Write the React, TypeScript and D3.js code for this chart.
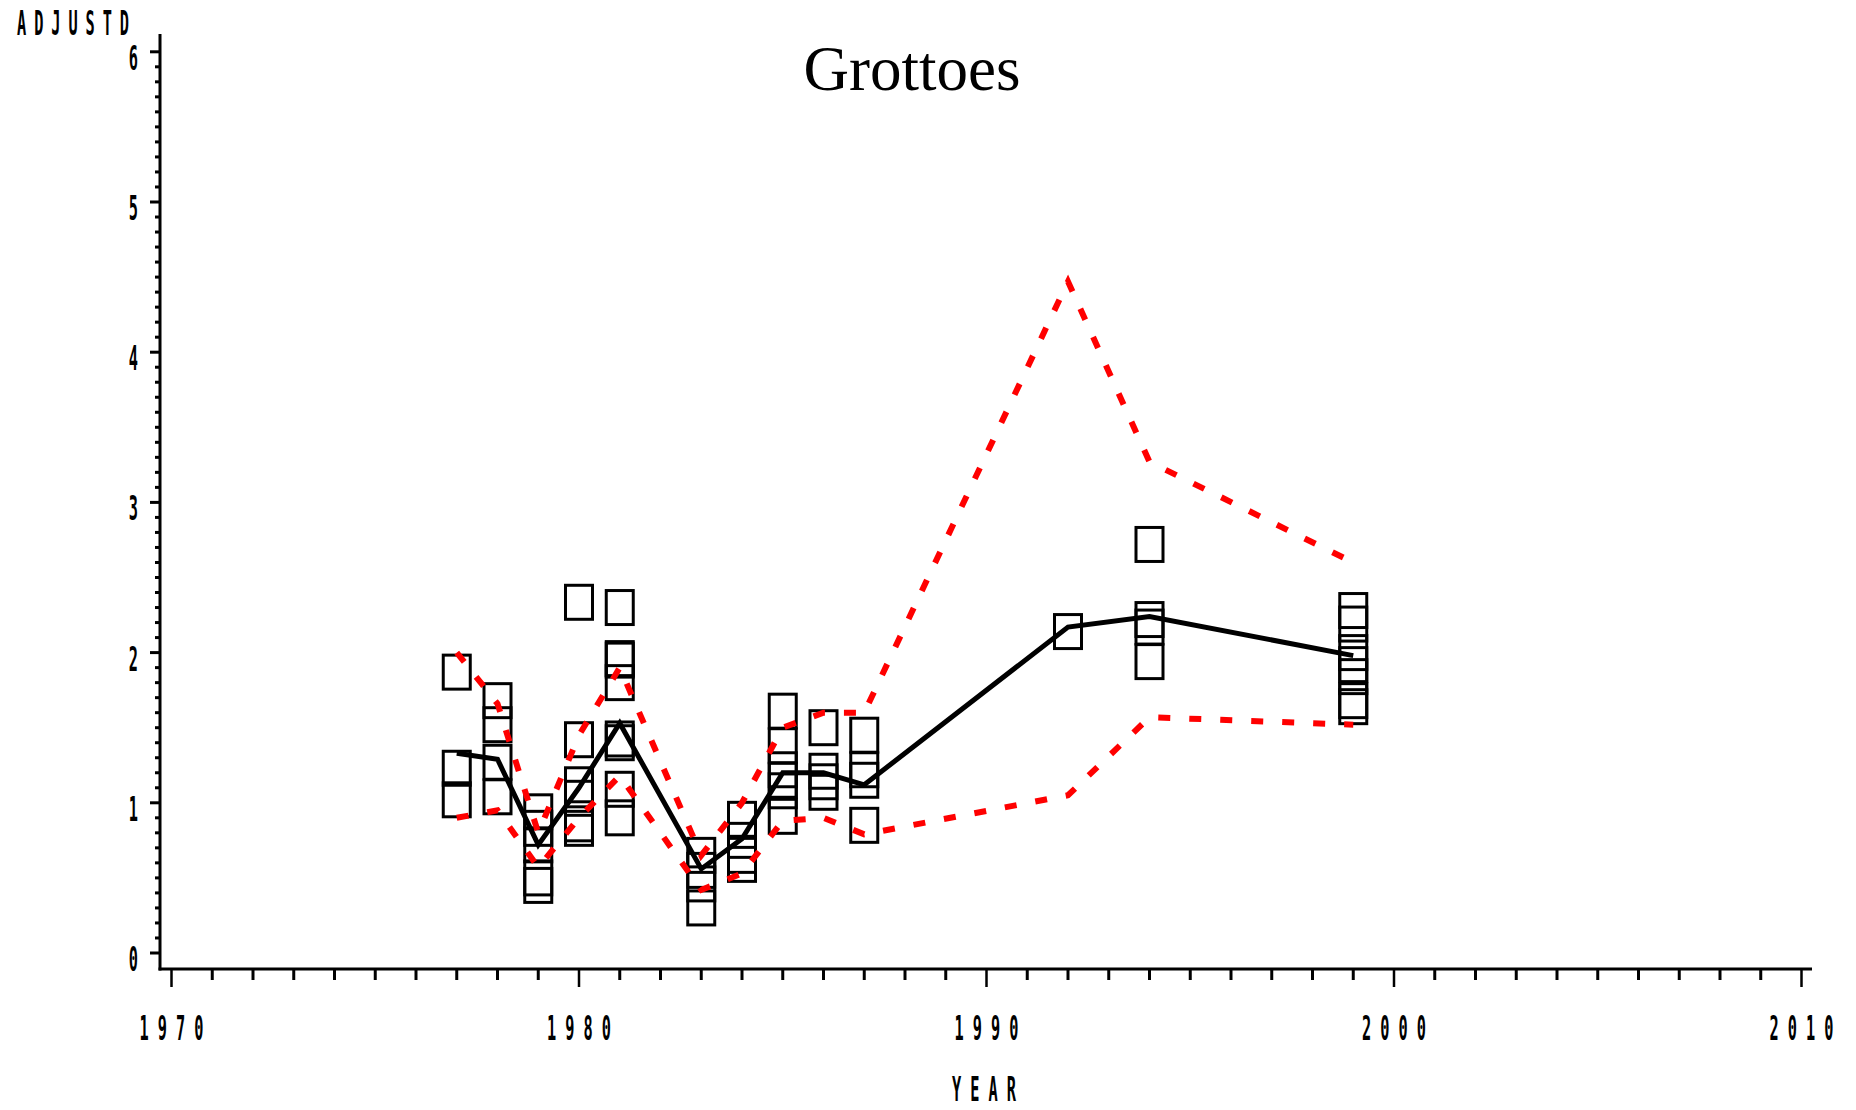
import React from "react";
import * as d3 from "d3";

// ---- data ----
const years = [1977, 1978, 1979, 1980, 1981, 1983, 1984, 1985, 1986, 1987, 1992, 1994, 1999];
const meanLine = [1.33, 1.29, 0.72, 1.1, 1.53, 0.56, 0.76, 1.2, 1.2, 1.12, 2.17, 2.24, 1.98];
const upperLine = [2.0, 1.66, 0.8, 1.45, 1.9, 0.65, 1.0, 1.5, 1.6, 1.6, 4.47, 3.27, 2.6];
const lowerLine = [0.9, 0.95, 0.57, 0.9, 1.18, 0.42, 0.53, 0.88, 0.9, 0.79, 1.05, 1.57, 1.52];
const pointValues: number[][] = [
  [1.87, 1.23, 1.02],
  [1.68, 1.52, 1.27, 1.04],
  [0.94, 0.83, 0.72, 0.5, 0.45],
  [2.335, 1.42, 1.12, 1.03, 0.86, 0.83],
  [2.3, 1.96, 1.95, 1.8, 1.425, 1.4, 1.09, 0.9],
  [0.65, 0.55, 0.46, 0.3],
  [0.89, 0.75, 0.65, 0.59],
  [1.61, 1.38, 1.22, 1.15, 1.08, 0.91],
  [1.5, 1.21, 1.14, 1.07],
  [1.45, 1.22, 1.15, 0.85],
  [2.14],
  [2.72, 2.22, 2.17, 1.94],
  [2.28, 2.19, 2.0, 1.92, 1.84, 1.68, 1.64],
];
const xMajorTicks = [1970, 1980, 1990, 2000, 2010];
const yMajorTicks = [0, 1, 2, 3, 4, 5, 6];
const titleText = "Grottoes";
const xLabel = "YEAR";
const yLabel = "ADJUSTD";

const W = 1856;
const H = 1110;

const x = d3.scaleLinear().domain([1970, 2010]).range([171.5, 1801.5]);
const y = d3.scaleLinear().domain([0, 6]).range([953, 51.8]);

const PIX_FONT = "'DejaVu Sans Mono', monospace";
const SX = 0.45;

function PixText({ px, py, text, anchor, width }: { px: number; py: number; text: string; anchor: string; width?: number }) {
  return (
    <g transform={`translate(${px},${py}) scale(${SX},1)`}>
      <text
        x={0}
        y={0}
        textAnchor={anchor}
        fontFamily={PIX_FONT}
        fontWeight="bold"
        fontSize={34}
        fill="#000"
        {...(width ? { textLength: width / SX, lengthAdjust: "spacing" } : {})}
      >
        {text}
      </text>
    </g>
  );
}

export default function App() {
  const lineGen = d3
    .line<[number, number]>()
    .x((d) => x(d[0]))
    .y((d) => y(d[1]));
  const meanPts: [number, number][] = years.map((yr, i) => [yr, meanLine[i]]);
  const upPts: [number, number][] = years.map((yr, i) => [yr, upperLine[i]]);
  const loPts: [number, number][] = years.map((yr, i) => [yr, lowerLine[i]]);

  const yMinor = d3.range(0, 61).map((k) => k / 10);
  const xMinor = d3.range(1970, 2011);

  const axisX0 = 160;
  const axisY0 = 969;

  return (
    <svg width={W} height={H} style={{ position: "absolute", left: 0, top: 0, background: "#fff" }}>
      <rect x={0} y={0} width={W} height={H} fill="#fff" />
      {/* title */}
      <text x={912} y={90} textAnchor="middle" fontFamily="'Liberation Serif', 'Times New Roman', serif" fontSize={63} fill="#000">
        {titleText}
      </text>
      {/* y label */}
      <PixText px={17} py={35} text={yLabel} anchor="start" width={112} />

      {/* y axis */}
      <line x1={axisX0} x2={axisX0} y1={34} y2={axisY0 + 1.5} stroke="#000" strokeWidth={3} />
      {yMinor.map((v) => {
        const major = Math.abs(v - Math.round(v)) < 1e-6;
        return (
          <line
            key={"ym" + v}
            x1={major ? 150 : 155}
            x2={axisX0}
            y1={y(v)}
            y2={y(v)}
            stroke="#000"
            strokeWidth={3}
          />
        );
      })}
      {yMajorTicks.map((v) => (
        <PixText key={"yl" + v} px={138} py={y(v) + 18} text={String(v)} anchor="end" />
      ))}

      {/* x axis */}
      <line x1={axisX0 - 1.5} x2={1812} y1={axisY0} y2={axisY0} stroke="#000" strokeWidth={3} />
      {xMinor.map((yr) => {
        const major = yr % 10 === 0;
        return (
          <line
            key={"xm" + yr}
            x1={x(yr)}
            x2={x(yr)}
            y1={axisY0}
            y2={axisY0 + (major ? 18 : 11)}
            stroke="#000"
            strokeWidth={major ? 2.5 : 3}
          />
        );
      })}
      {xMajorTicks.map((yr) => (
        <PixText key={"xl" + yr} px={x(yr)} py={1040} text={String(yr)} anchor="middle" width={64} />
      ))}
      <PixText px={984} py={1101} text={xLabel} anchor="middle" width={64} />

      {/* point markers */}
      {years.map((yr, i) =>
        pointValues[i].map((v, j) => (
          <rect
            key={`p${yr}-${j}`}
            x={x(yr) - 13.5}
            y={y(v) - 17}
            width={27}
            height={34}
            fill="none"
            stroke="#000"
            strokeWidth={3}
          />
        ))
      )}

      {/* mean line */}
      <path d={lineGen(meanPts) || ""} fill="none" stroke="#000" strokeWidth={5} />

      {/* bounds */}
      <path d={lineGen(upPts) || ""} fill="none" stroke="#ff0000" strokeWidth={6} strokeDasharray="12 19" />
      <path d={lineGen(loPts) || ""} fill="none" stroke="#ff0000" strokeWidth={6} strokeDasharray="12 19" />
    </svg>
  );
}
